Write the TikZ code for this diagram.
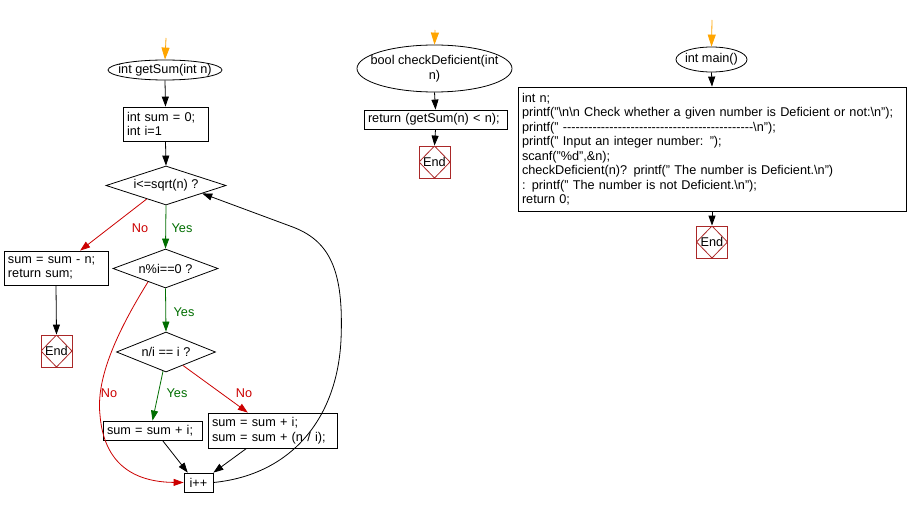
\documentclass[tikz,border=0pt]{standalone}
\usepackage{fontspec}
\setmainfont{Liberation Sans}
\usetikzlibrary{arrows.meta,shapes.geometric,calc}
\definecolor{fcorange}{RGB}{255,165,0}
\definecolor{fcred}{RGB}{204,0,0}
\definecolor{fcgreen}{RGB}{0,110,0}
\definecolor{fcend}{RGB}{170,40,40}
\tikzset{
  txt/.style={font=\fontsize{12.7}{14.5}\selectfont},
  box/.style={txt, draw, line width=0.8pt, inner xsep=4pt, inner ysep=2pt, align=left},
  oval/.style={ellipse, draw, line width=0.8pt, inner sep=0pt},
  ovaltext/.style={txt, inner sep=0pt, align=center},
  cond/.style={txt, diamond, draw, line width=0.8pt, inner sep=0pt, aspect=3},
  endbox/.style={txt, draw=fcend, line width=0.8pt, minimum width=31pt, minimum height=32pt, inner sep=0pt,
    path picture={\draw[fcend, line width=0.8pt] (path picture bounding box.north) -- (path picture bounding box.east) -- (path picture bounding box.south) -- (path picture bounding box.west) -- cycle;}},
  arr/.style={draw, line width=0.8pt, -{Triangle[length=10pt,width=7pt]}},
  startarr/.style={draw=fcorange, line width=0.8pt, -{Triangle[length=12pt,width=8pt]}},
  yesarr/.style={arr, draw=fcgreen, -{Triangle[length=10pt,width=7pt,fill=fcgreen]}},
  noarr/.style={arr, draw=fcred, -{Triangle[length=10pt,width=7pt,fill=fcred]}},
  yeslbl/.style={txt, text=fcgreen, inner sep=0pt},
  nolbl/.style={txt, text=fcred, inner sep=0pt},
}
\begin{document}
\begin{tikzpicture}[x=1pt,y=-1pt]
\useasboundingbox[fill=white] (0,0) rectangle (907,508);

% ---- getSum ----
\coordinate (s1) at (166,38);
\node[oval, minimum width=114pt, minimum height=20pt] (gs) at (165,70) {};
\node[ovaltext] (gst) at (gs.center) {int getSum(int n)};
\node[box, text width=77pt, minimum height=34pt] (init) at (165.5,124) {int sum = 0;\\int i=1};
\node[cond, minimum width=120pt, minimum height=39pt] (d1) at (166,185.5) {i<=sqrt(n) ?};
\node[cond, minimum width=105pt, minimum height=39pt] (d2) at (165.5,268.5) {n\%i==0 ?};
\node[cond, minimum width=99pt, minimum height=40pt] (d3) at (166,352) {n/i == i ?};
\node[box, text width=96pt, minimum height=34pt] (ret) at (56,268) {sum = sum - n;\\return sum;};
\node[endbox] (e1) at (56.5,351) {End};
\node[box, text width=91pt, minimum height=19pt] (b1) at (152.5,430.5) {sum = sum + i;};
\node[box, text width=121pt, minimum height=35pt] (b2) at (272.5,430.5) {sum = sum + i;\\sum = sum + (n / i);};
\node[box, text width=21pt, minimum height=19pt, align=center] (inc) at (198.5,482.5) {i++};

\draw[startarr] (s1) -- (gs.north);
\draw[arr] (gs.south) -- (init.north);
\draw[arr] (init.south) -- (d1.north);
\draw[yesarr] (d1.south) -- (d2.north);
\draw[yesarr] (d2.south) -- (d3.north);
\draw[noarr] ($(d1.south)!0.32!(d1.west)$) -- ($(ret.north east)!0.27!(ret.north west)$);
\draw[arr] (ret.south) -- (e1.north);
\draw[noarr] ($(d2.south)!0.33!(d2.west)$) .. controls (115,335) and (96,380) .. (100,415) .. controls (104,465) and (135,482) .. (inc.west);
\draw[yesarr] ($(d3.south)!0.06!(d3.west)$) -- (b1.north);
\draw[noarr] ($(d3.south)!0.34!(d3.east)$) -- ($(b2.north west)!0.31!(b2.north east)$);
\draw[arr] ($(b1.south west)!0.6!(b1.south east)$) -- ($(inc.north west)!0.14!(inc.north east)$);
\draw[arr] ($(b2.south west)!0.3!(b2.south east)$) -- (inc.north east);
\draw[arr] (inc.east) .. controls (290,475) and (337,420) .. (341,340) .. controls (344,270) and (330,240) .. (290,226) -- ($(d1.south)!0.6!(d1.east)$);

\node[nolbl] at (140,228) {No};
\node[yeslbl] at (182,228) {Yes};
\node[yeslbl] at (184,312) {Yes};
\node[nolbl] at (109,393) {No};
\node[yeslbl] at (177,393) {Yes};
\node[nolbl] at (244,393) {No};

% ---- checkDeficient ----
\coordinate (s2) at (435,30);
\node[oval, minimum width=155pt, minimum height=47pt] (cd) at (434.5,68.5) {};
\node[ovaltext] (cdt) at (cd.center) {bool checkDeficient(int\\n)};
\node[box, text width=135pt, minimum height=19pt] (rb) at (435.5,119.5) {return (getSum(n) < n);};
\node[endbox] (e2) at (434.5,162) {End};
\draw[startarr] (s2) -- (cd.north);
\draw[arr] (cd.south) -- (rb.north);
\draw[arr] (rb.south) -- (e2.north);

% ---- main ----
\coordinate (s3) at (712,20);
\node[oval, minimum width=71pt, minimum height=25pt] (mn) at (711.5,59.5) {};
\node[ovaltext] (mnt) at (mn.center) {int main()};
\node[box, text width=380pt, minimum height=124pt] (mb) at (712,149) {int n;\\
printf("\textbackslash n\textbackslash n Check whether a given number is Deficient or not:\textbackslash n");\\
printf(" \foreach \k in {1,...,45}{-\kern0pt}\textbackslash n");\\
printf(" Input an integer number: ");\\
scanf("\%d",\&n);\\
checkDeficient(n)? printf(" The number is Deficient.\textbackslash n")\\
: printf(" The number is not Deficient.\textbackslash n");\\
return 0;};
\node[endbox] (e3) at (712,242) {End};
\draw[startarr] (s3) -- (mn.north);
\draw[arr] (mn.south) -- (mb.north);
\draw[arr] (mb.south) -- (e3.north);
\end{tikzpicture}
\end{document}
